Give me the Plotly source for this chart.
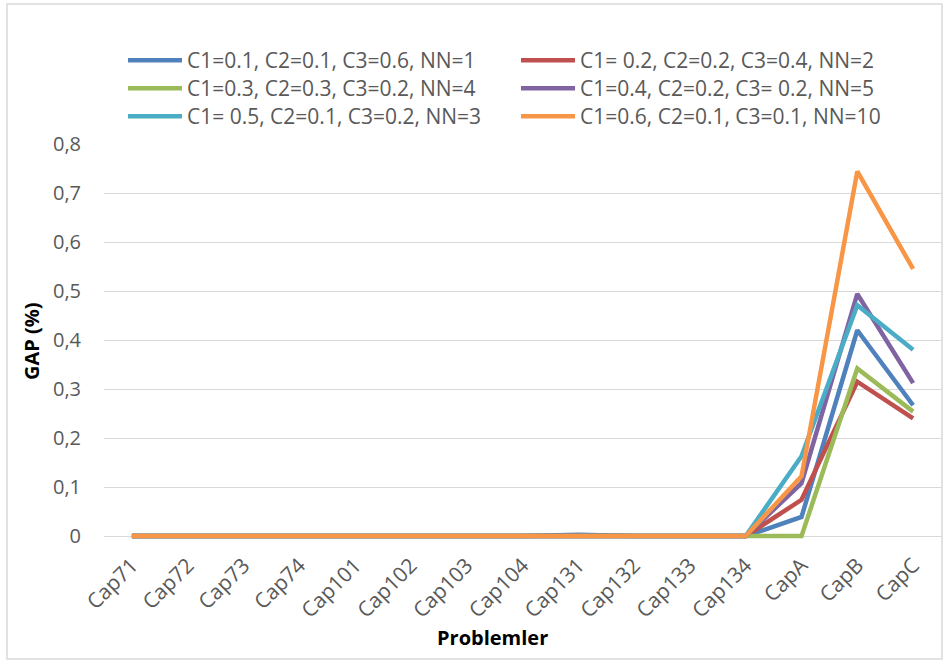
import plotly.graph_objects as go

# Problem instances on the x axis
categories = ["Cap71", "Cap72", "Cap73", "Cap74", "Cap101", "Cap102", "Cap103",
              "Cap104", "Cap131", "Cap132", "Cap133", "Cap134", "CapA", "CapB", "CapC"]

# GAP (%) per parameter setting
gap_nn1 = [0, 0, 0, 0, 0, 0, 0, 0, 0.003, 0, 0, 0, 0.039, 0.420, 0.267]
gap_nn2 = [0, 0, 0, 0, 0, 0, 0, 0, 0, 0, 0, 0, 0.074, 0.315, 0.240]
gap_nn4 = [0, 0, 0, 0, 0, 0, 0, 0, 0, 0, 0, 0, 0.000, 0.342, 0.254]
gap_nn5 = [0, 0, 0, 0, 0, 0, 0, 0, 0, 0, 0, 0, 0.108, 0.494, 0.312]
gap_nn3 = [0, 0, 0, 0, 0, 0, 0, 0, 0, 0, 0, 0, 0.163, 0.471, 0.380]
gap_nn10 = [0, 0, 0, 0, 0, 0, 0, 0, 0, 0, 0, 0, 0.122, 0.744, 0.545]

series_names = [
    "C1=0.1, C2=0.1, C3=0.6, NN=1",
    "C1= 0.2, C2=0.2, C3=0.4, NN=2",
    "C1=0.3, C2=0.3, C3=0.2, NN=4",
    "C1=0.4, C2=0.2, C3= 0.2, NN=5",
    "C1= 0.5, C2=0.1, C3=0.2, NN=3",
    "C1=0.6, C2=0.1, C3=0.1, NN=10",
]
series_colors = ["#4F81BD", "#C0504D", "#9BBB59", "#8064A2", "#4BACC6", "#F79646"]
series_values = [gap_nn1, gap_nn2, gap_nn4, gap_nn5, gap_nn3, gap_nn10]

y_ticks = [0, 0.1, 0.2, 0.3, 0.4, 0.5, 0.6, 0.7, 0.8]
y_tick_labels = ["0", "0,1", "0,2", "0,3", "0,4", "0,5", "0,6", "0,7", "0,8"]

TEXT = "#595959"
GRID = "#D9D9D9"
FONT = "Open Sans"

W, H = 943, 660
ML, MR, MT, MB = 104, 2, 144, 119
pw, ph = W - ML - MR, H - MT - MB


def px_x(x):
    return (x - ML) / pw


def px_y(y):
    return (H - MB - y) / ph


fig = go.Figure()
legend_ids = []
for i, (name, vals, col) in enumerate(zip(series_names, series_values, series_colors)):
    lid = "legend" if i == 0 else f"legend{i + 1}"
    legend_ids.append(lid)
    fig.add_trace(go.Scatter(
        x=categories, y=vals, name=name, mode="lines", legend=lid,
        showlegend=True,
        line=dict(color=col, width=4.5, shape="linear"),
    ))

# two-column legend: each entry gets its own legend box (column, row)
legend_layout = {}
for i, lid in enumerate(legend_ids):
    col, row = i % 2, i // 2
    legend_layout[lid] = dict(
        orientation="v", bgcolor="rgba(0,0,0,0)", borderwidth=0,
        font=dict(family=FONT, size=21, color=TEXT),
        itemwidth=54, tracegroupgap=0, visible=True,
        xref="container", yref="container", xanchor="left", yanchor="top",
        x=(123 + 393 * col) / W, y=1 - (40 + 28 * row) / H,
    )

fig.update_layout(
    width=W, height=H, showlegend=True,
    margin=dict(l=ML, r=MR, t=MT, b=MB, pad=0, autoexpand=False),
    paper_bgcolor="white", plot_bgcolor="white",
    font=dict(family=FONT, color=TEXT),
    xaxis=dict(
        type="category", range=[-0.5, 14.5], showgrid=False, zeroline=False,
        showline=False, ticks="", tickangle=-45, automargin=False,
        ticklabelstandoff=7,
        tickfont=dict(family=FONT, size=21, color=TEXT),
    ),
    yaxis=dict(
        range=[-0.01, 0.8], tickvals=y_ticks, ticktext=y_tick_labels,
        showgrid=True, gridcolor=GRID, gridwidth=1.3, zeroline=False,
        showline=False, ticks="", ticklabelstandoff=22, automargin=False,
        tickfont=dict(family=FONT, size=20, color=TEXT),
    ),
    shapes=[dict(
        type="rect", xref="paper", yref="paper",
        x0=px_x(7), x1=px_x(942), y0=px_y(659), y1=px_y(4),
        line=dict(color=GRID, width=1.5), fillcolor="rgba(0,0,0,0)", layer="below",
    )],
    annotations=[
        dict(text="<b>GAP (%)</b>", xref="paper", yref="paper",
             x=px_x(31), y=px_y(341), textangle=-90, showarrow=False,
             font=dict(family=FONT, size=20, color="#000000"),
             xanchor="center", yanchor="middle"),
        dict(text="<b>Problemler</b>", xref="paper", yref="paper",
             x=px_x(492), y=px_y(637), showarrow=False,
             font=dict(family=FONT, size=20, color="#000000"),
             xanchor="center", yanchor="middle"),
    ],
    **legend_layout,
)

fig.write_html("out.html")
